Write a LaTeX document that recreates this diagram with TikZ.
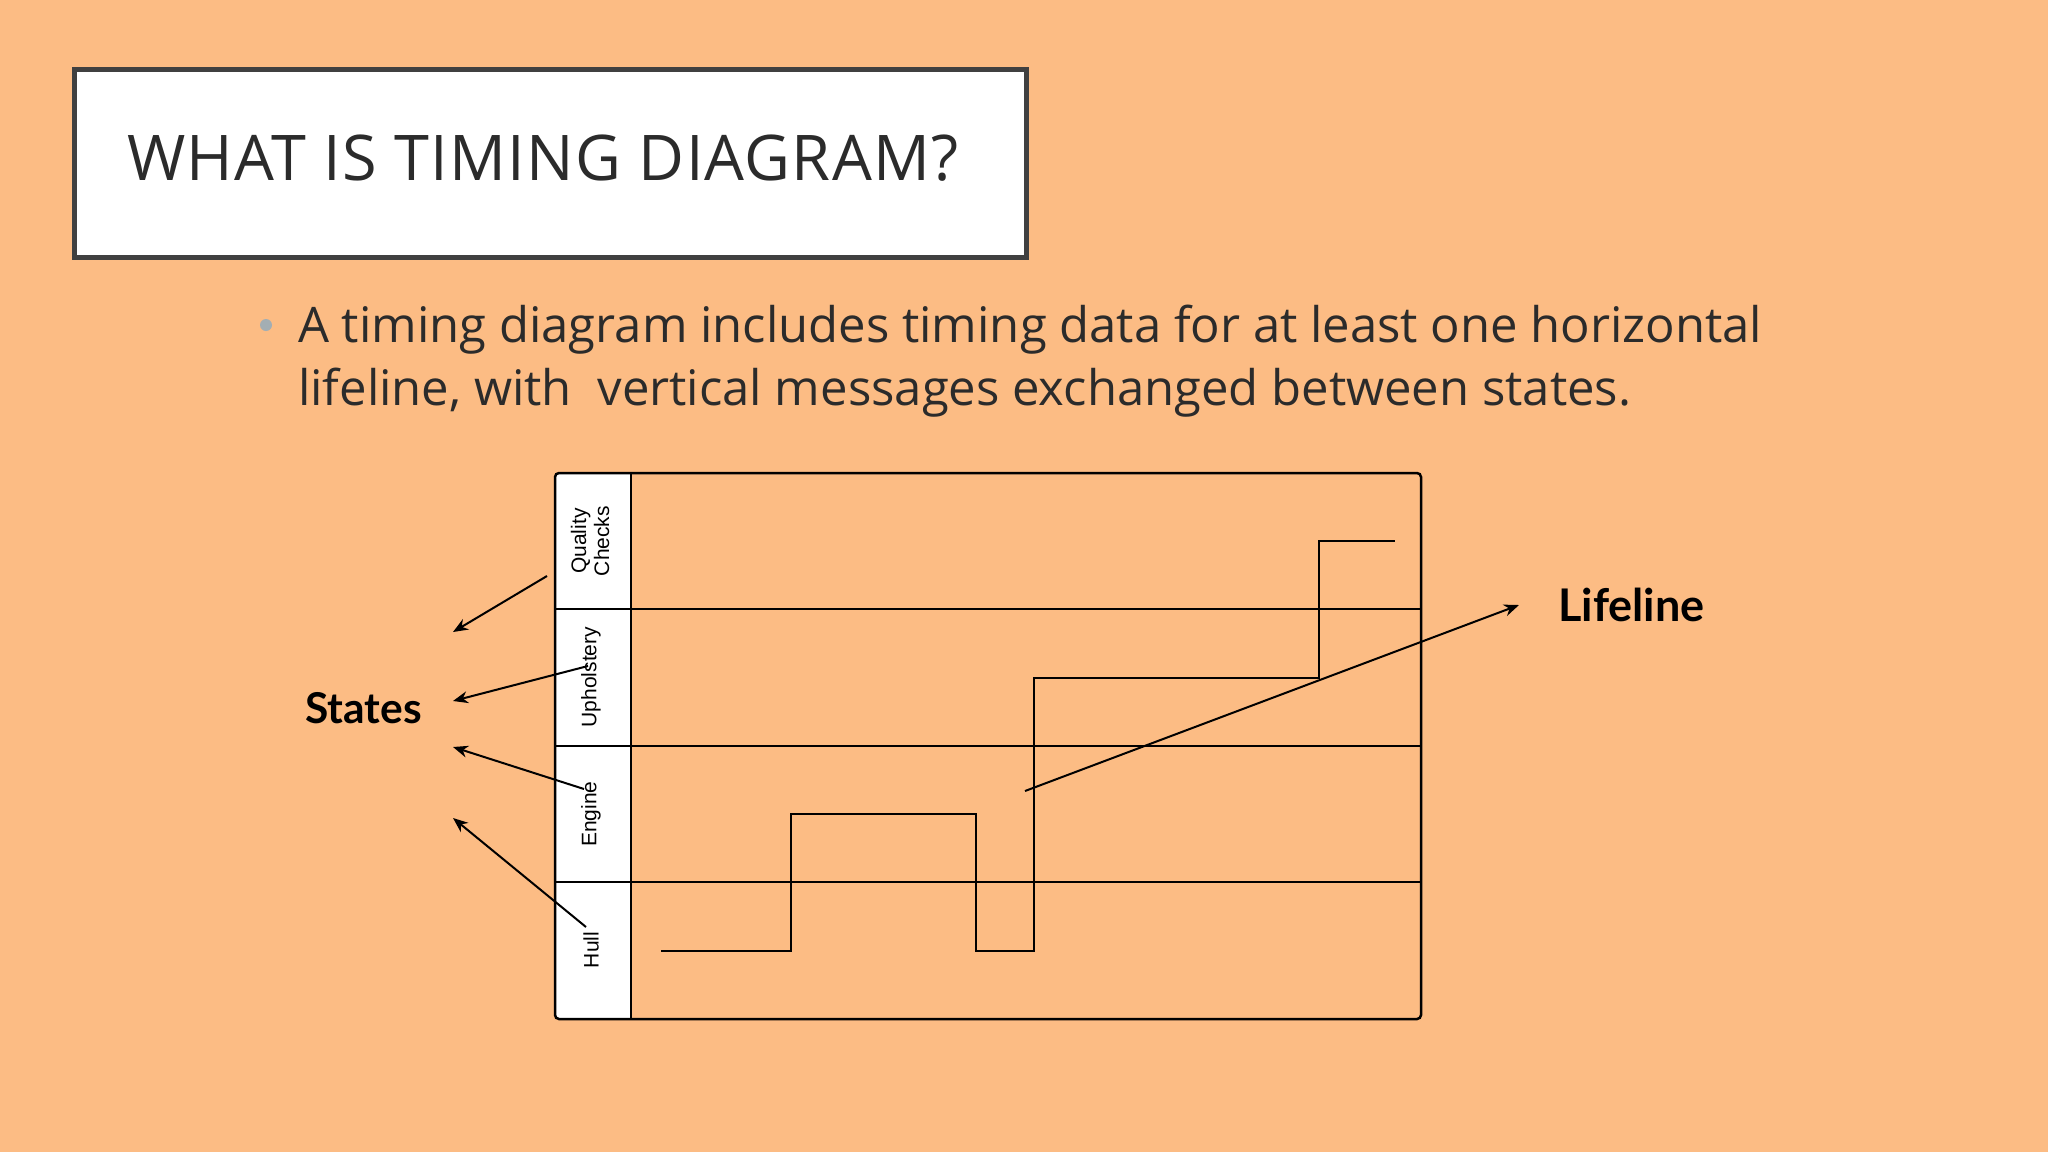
\documentclass[tikz,border=0pt]{standalone}
\usepackage{fontspec}
\setmainfont{Open Sans}
\newfontfamily\titlefont[LetterSpace=2]{Open Sans}
\newfontfamily\boldlabel{Lato}
\newfontfamily\rowfont{Liberation Sans}
\usepackage{tikz}
\usetikzlibrary{positioning,arrows.meta}

\definecolor{slidebg}{HTML}{FCBC84}
\definecolor{frame}{HTML}{404040}
\definecolor{inktext}{HTML}{2B2B2B}
\definecolor{dotgrey}{HTML}{A3AEB3}

\tikzset{
  rowlabel/.style={rotate=90, align=center, inner sep=0pt, font=\rowfont\fontsize{21}{23}\selectfont},
  bodytext/.style={anchor=base west, inner sep=0pt, text=inktext, font=\fontsize{49}{63}\selectfont},
  wave/.style={line width=2.5pt, line join=miter},
  pointer/.style={->, line width=2pt},
}

\begin{document}
\begin{tikzpicture}[x=1pt, y=-1pt, >={Stealth[length=15pt,width=12pt]}]
\useasboundingbox[fill=slidebg] (0,0) rectangle (2048,1152);

% title box
\node[draw=frame, line width=5pt, fill=white, anchor=north west,
      minimum width=952pt, minimum height=188pt] (titlebox) at (72,67) {};
\node[anchor=base west, inner sep=0pt, text=inktext,
      font=\titlefont\fontsize{63}{63}\selectfont] (title) at (127,180) {WHAT IS TIMING DIAGRAM?};

% bullet text
\node[circle, fill=dotgrey, inner sep=0pt, minimum size=12pt] (dot) at (266,325) {};
\node[bodytext] (line1) at (298,342) {A timing diagram includes timing data for at least one horizontal};
\node[bodytext] (line2) at (298,405) {lifeline, with \ vertical messages exchanged between states.};

% diagram frame and label column
\fill[white, rounded corners=4pt] (555,473) rectangle (631,1019);
\draw[line width=2.5pt, rounded corners=4pt] (555,473) rectangle (1421,1019);
\draw[line width=2.5pt] (631,473) -- (631,1019);
\foreach \y in {609,746,882}
  \draw[line width=2.5pt] (555,\y) -- (1421,\y);

% row labels
\node[rowlabel] (quality) at (590,541) {Quality\\Checks};
\node[rowlabel] (uphol) at (591,677) {Upholstery};
\node[rowlabel] (engine) at (591,814) {Engine};
\node[rowlabel] (hull) at (591,950) {Hull};

% lifeline
\draw[wave] (661,951) -- (791,951) -- (791,814) -- (976,814) -- (976,951)
  -- (1034,951) -- (1034,678) -- (1319,678) -- (1319,541) -- (1395,541);

% states pointers
\node[anchor=base west, inner sep=0pt, font=\boldlabel\bfseries\fontsize{42.5}{42.5}\selectfont] (states) at (305,723) {States};
\coordinate (qTail) at (547,576);
\coordinate (uTail) at (588,666);
\coordinate (eTail) at (584,789);
\coordinate (hTail) at (586,927);
\coordinate (qHead) at (453,632);
\coordinate (uHead) at (453,701);
\coordinate (eHead) at (453,747);
\coordinate (hHead) at (453,818);
\draw[pointer] (qTail) -- (qHead);
\draw[pointer] (uTail) -- (uHead);
\draw[pointer] (eTail) -- (eHead);
\draw[pointer] (hTail) -- (hHead);

% lifeline pointer
\node[anchor=base west, inner sep=0pt, font=\boldlabel\bfseries\fontsize{45}{45}\selectfont] (life) at (1558,621) {Lifeline};
\coordinate (lTail) at (1025,791);
\coordinate (lHead) at (1519,605);
\draw[pointer] (lTail) -- (lHead);
\end{tikzpicture}
\end{document}
